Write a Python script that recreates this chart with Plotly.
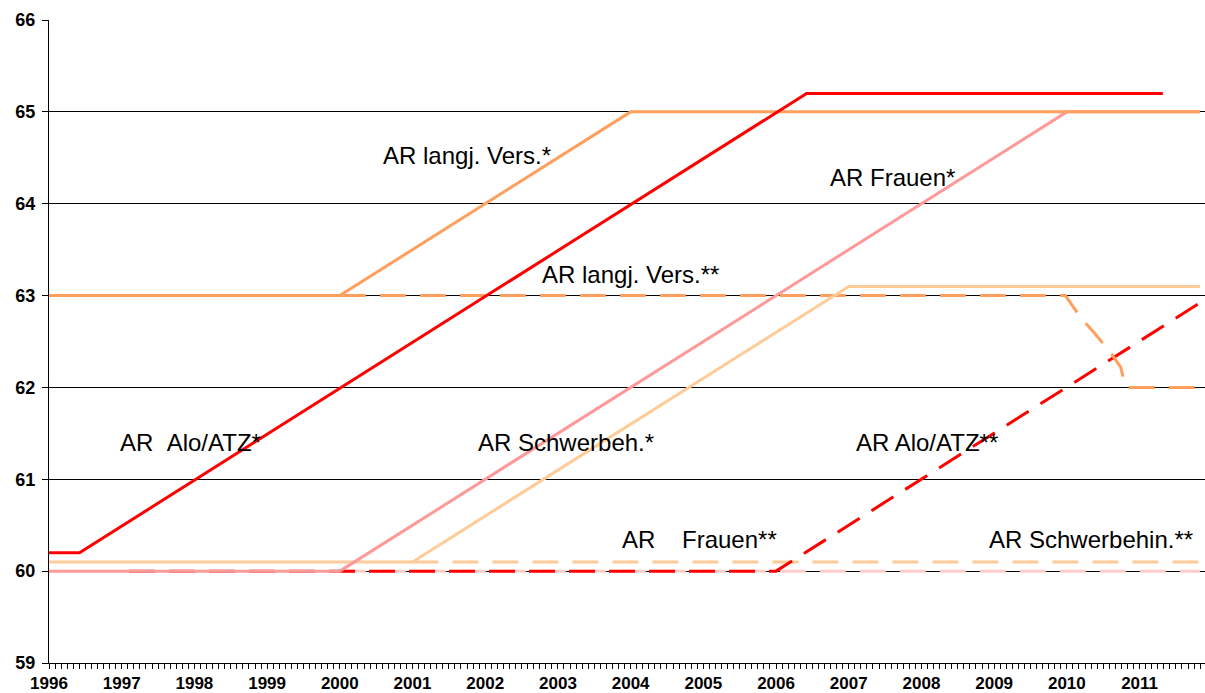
import plotly.graph_objects as go

# ---- data (years as decimal, values = retirement age) ----
alo_star_x = [1996.0, 1996.42, 2006.42, 2011.32]
alo_star_y = [60.2, 60.2, 65.2, 65.2]

langj_star_x = [1996.0, 2000.0, 2004.0, 2011.83]
langj_star_y = [63.0, 63.0, 65.0, 65.0]

frauen_star_x = [1996.0, 2000.0, 2010.0, 2011.83]
frauen_star_y = [60.0, 60.0, 65.0, 65.0]

schwer_star_x = [1996.0, 2001.0, 2007.0, 2011.83]
schwer_star_y = [60.1, 60.1, 63.1, 63.1]

alo_2_x = [1997.1, 2006.0, 2011.83]
alo_2_y = [60.0, 60.0, 62.92]

langj_2_x = [2000.0, 2009.98, 2010.2, 2010.37, 2010.6, 2010.74, 2010.81, 2011.83]
langj_2_y = [63.0, 63.0, 62.75, 62.6, 62.38, 62.22, 62.0, 62.0]

frauen_2_x = [2000.0, 2011.83]
frauen_2_y = [60.0, 60.0]

schwer_2_x = [2001.0, 2011.83]
schwer_2_y = [60.1, 60.1]

year_ticks = list(range(1996, 2012))
y_ticks = [59, 60, 61, 62, 63, 64, 65, 66]

labels = [
    ("AR langj. Vers.*", 2001.75, 64.53),
    ("AR Frauen*", 2007.6, 64.28),
    ("AR langj. Vers.**", 2004.0, 63.23),
    ("AR\u00a0\u00a0Alo/ATZ*", 1997.94, 61.40),
    ("AR Schwerbeh.*", 2003.11, 61.40),
    ("AR Alo/ATZ**", 2008.08, 61.40),
    ("AR\u00a0\u00a0\u00a0\u00a0Frauen**", 2004.95, 60.34),
    ("AR Schwerbehin.**", 2010.33, 60.34),
]

RED = "#FF0000"
ORANGE = "#FF9F5E"
PINK = "#FF9999"
LPINK = "#FFCCCC"
PEACH = "#FFCC99"
DASH = "26px,14px"
FONT = "Arial, Liberation Sans"

fig = go.Figure()

def add(x, y, color, dash=None):
    fig.add_trace(go.Scatter(
        x=x, y=y, mode="lines",
        line=dict(color=color, width=3, dash=dash if dash else "solid"),
        hoverinfo="skip", showlegend=False,
    ))

# dashed series first (underneath)
add(frauen_2_x, frauen_2_y, LPINK, DASH)
add(schwer_2_x, schwer_2_y, PEACH, DASH)
add(alo_2_x, alo_2_y, RED, DASH)
add(langj_2_x, langj_2_y, ORANGE, DASH)
# solid series
add(schwer_star_x, schwer_star_y, PEACH)
add(frauen_star_x, frauen_star_y, PINK)
add(langj_star_x, langj_star_y, ORANGE)
add(alo_star_x, alo_star_y, RED)

for text, x, y in labels:
    fig.add_annotation(x=x, y=y, text=text, showarrow=False,
                       font=dict(family=FONT, size=24, color="black"),
                       xanchor="center", yanchor="middle")

fig.update_layout(
    width=1205, height=693, autosize=False,
    margin=dict(l=49, r=0, t=20, b=30, autoexpand=False),
    paper_bgcolor="white", plot_bgcolor="white",
    font=dict(family=FONT, color="black"),
    xaxis=dict(
        range=[1996, 2011.9], tickmode="array", tickvals=year_ticks,
        ticktext=["<b>%d</b>" % v for v in year_ticks],
        tickfont=dict(family=FONT, size=17, color="black"),
        showgrid=False, zeroline=False, showline=True, linecolor="black", linewidth=1,
        ticks="outside", ticklen=5, tickcolor="black", tickwidth=1,
        ticklabelstandoff=0, automargin=False,
        minor=dict(dtick=1/12, tick0=1996, ticks="outside", ticklen=5, tickcolor="black", tickwidth=1, showgrid=False),
    ),
    yaxis=dict(
        range=[59, 66], tickmode="array", tickvals=y_ticks,
        ticktext=["<b>%d</b>" % v for v in y_ticks],
        tickfont=dict(family=FONT, size=18, color="black"),
        showgrid=True, gridcolor="black", gridwidth=1, zeroline=False,
        showline=True, linecolor="black", linewidth=1,
        ticks="outside", ticklen=6, tickcolor="black", tickwidth=1,
        ticklabelstandoff=3, automargin=False,
    ),
)

fig.write_html("out.html", config={"displayModeBar": False},
               post_script="document.body.style.margin='0';document.body.style.overflow='hidden';")
